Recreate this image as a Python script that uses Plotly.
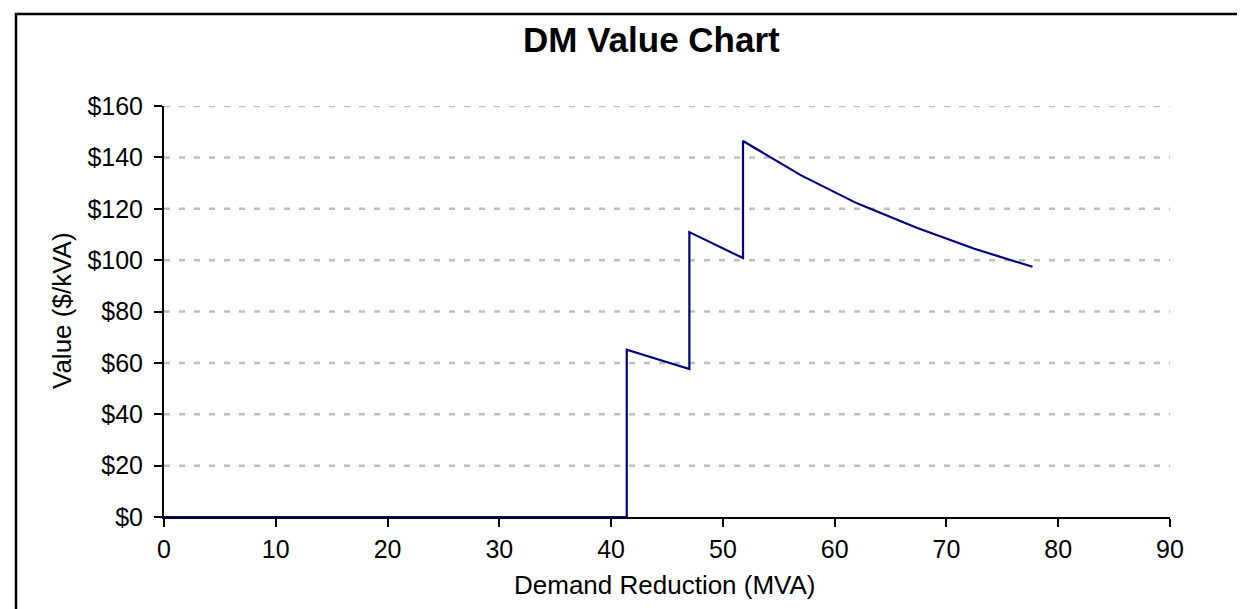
import plotly.graph_objects as go

# Data
demand_mva = [0, 41.4, 41.4, 47.0, 47.0, 51.8, 51.8, 57.0, 62.0, 67.4, 72.5, 77.7]
value_per_kva = [0, 0, 65.1, 57.6, 110.9, 100.8, 146.4, 133.0, 122.1, 112.5, 104.4, 97.4]

x_ticks = [0, 10, 20, 30, 40, 50, 60, 70, 80, 90]
y_ticks = [0, 20, 40, 60, 80, 100, 120, 140, 160]
y_tick_labels = ["$" + str(v) for v in y_ticks]

W, H = 1245, 609
L, R, T, B = 156, 1162, 98, 509
pw, ph = R - L, B - T

def px(xp):
    return (xp - L) / pw

def py(yp):
    return (B - yp) / ph

FONT = "Liberation Sans, Arial, sans-serif"

fig = go.Figure()
fig.add_trace(go.Scatter(
    x=demand_mva, y=value_per_kva, mode="lines",
    line=dict(color="#000080", width=2.2), cliponaxis=False,
    showlegend=False, hoverinfo="x+y",
))

# dashed gridlines (Excel style)
for v in y_ticks[1:]:
    fig.add_shape(type="line", xref="paper", yref="y", x0=0, x1=1, y0=v, y1=v,
                  line=dict(color="#BEBEBE", width=2.5, dash="6px,9px"), layer="below")

fig.update_layout(
    width=W, height=H,
    margin=dict(l=L, r=W - R, t=T, b=H - B, pad=0),
    paper_bgcolor="white", plot_bgcolor="white",
    font=dict(family=FONT, size=25, color="black"),
    xaxis=dict(range=[0, 90], tickvals=x_ticks, ticks="outside", ticklen=8, tickwidth=2,
               tickcolor="black", showline=True, linecolor="black", linewidth=2,
               showgrid=False, zeroline=False, layer="below traces", ticklabelstandoff=1,
               tickfont=dict(size=25, family=FONT)),
    yaxis=dict(range=[0, 160], tickvals=y_ticks, ticktext=y_tick_labels, ticks="outside",
               ticklen=8, tickwidth=2, tickcolor="black", showline=True, linecolor="black",
               linewidth=2, showgrid=False, zeroline=False, layer="below traces",
               ticklabelstandoff=6, tickfont=dict(size=25, family=FONT)),
    showlegend=False,
)

annotations = [
    dict(text="<b>DM Value Chart</b>", x=px(643), y=py(31), xref="paper", yref="paper",
         showarrow=False, font=dict(size=35, family=FONT), xanchor="center", yanchor="middle"),
    dict(text="Demand Reduction (MVA)", x=px(657), y=py(577), xref="paper", yref="paper",
         showarrow=False, font=dict(size=26, family=FONT), xanchor="center", yanchor="middle"),
    dict(text="Value ($/kVA)", x=px(54), y=py(303), xref="paper", yref="paper",
         showarrow=False, textangle=-90, font=dict(size=26, family=FONT),
         xanchor="center", yanchor="middle"),
]
fig.update_layout(annotations=annotations)

# chart-area border
fig.add_shape(type="rect", xref="paper", yref="paper",
              x0=px(8), x1=px(1260), y0=py(620), y1=py(6),
              line=dict(color="black", width=2.5), fillcolor="rgba(0,0,0,0)")

fig.write_html("out.html")
